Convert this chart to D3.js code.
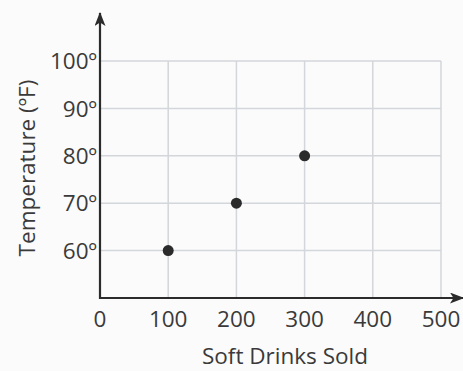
<!DOCTYPE html>
<html><head><meta charset="utf-8">
<script src="https://cdn.jsdelivr.net/npm/d3@7"></script>
<style>body{margin:0;background:#fbfbfb;}svg{display:block;font-family:"Open Sans",sans-serif;}</style>
</head><body>
<script>
const sales = [100, 200, 300];
const temps = [60, 70, 80];
const xTicks = [0, 100, 200, 300, 400, 500];
const yTicks = [60, 70, 80, 90, 100];
const xTitle = "Soft Drinks Sold";
const yTitle = "Temperature (ºF)";

const W = 463, H = 371;
const svg = d3.select("body").append("svg").attr("width", W).attr("height", H);
svg.append("rect").attr("width", W).attr("height", H).attr("fill", "#fbfbfb");

const x = d3.scaleLinear().domain([0, 500]).range([100, 441]);
const y = d3.scaleLinear().domain([50, 100]).range([298, 61]);

// grid
const g = svg.append("g").attr("stroke", "#d3d6da").attr("stroke-width", 1.5);
xTicks.filter(d => d > 0).forEach(d => g.append("line").attr("x1", x(d)).attr("x2", x(d)).attr("y1", y(50)).attr("y2", y(100)));
yTicks.forEach(d => g.append("line").attr("x1", x(0)).attr("x2", x(500)).attr("y1", y(d)).attr("y2", y(d)));

// axes with arrows
const defs = svg.append("defs");
defs.append("marker").attr("id", "arr").attr("viewBox", "0 0 14 11").attr("refX", 13).attr("refY", 5.5)
  .attr("markerWidth", 14).attr("markerHeight", 11).attr("markerUnits", "userSpaceOnUse").attr("orient", "auto")
  .append("path").attr("d", "M0,0 L14,5.5 L0,11 L3.5,5.5 Z").attr("fill", "#2b2b2b");
svg.append("line").attr("x1", x(0)).attr("x2", x(0)).attr("y1", y(50) + 1).attr("y2", 13)
  .attr("stroke", "#2b2b2b").attr("stroke-width", 2.2).attr("marker-end", "url(#arr)");
svg.append("line").attr("x1", x(0) - 1).attr("x2", 463).attr("y1", y(50)).attr("y2", y(50))
  .attr("stroke", "#2b2b2b").attr("stroke-width", 2.2).attr("marker-end", "url(#arr)");

// tick labels
svg.append("g").selectAll("text").data(xTicks).join("text")
  .attr("x", d => x(d)).attr("y", 327).attr("text-anchor", "middle")
  .attr("font-size", 22.5).attr("fill", "#3a3a3a").text(d => d);
svg.append("g").selectAll("text").data(yTicks).join("text")
  .attr("x", 97).attr("y", d => y(d)).attr("dy", "0.36em").attr("text-anchor", "end")
  .attr("font-size", 22.5).attr("fill", "#3a3a3a").text(d => d + "º");

// titles
svg.append("text").attr("x", 285).attr("y", 364).attr("text-anchor", "middle")
  .attr("font-size", 22.5).attr("fill", "#3a3a3a").text(xTitle);
svg.append("text").attr("transform", "translate(35,168) rotate(-90)").attr("text-anchor", "middle")
  .attr("font-size", 22.5).attr("fill", "#3a3a3a").text(yTitle);

// points
svg.append("g").selectAll("circle").data(sales).join("circle")
  .attr("cx", d => x(d)).attr("cy", (d, i) => y(temps[i])).attr("r", 5.5).attr("fill", "#2b2b2b");
</script>
</body></html>
